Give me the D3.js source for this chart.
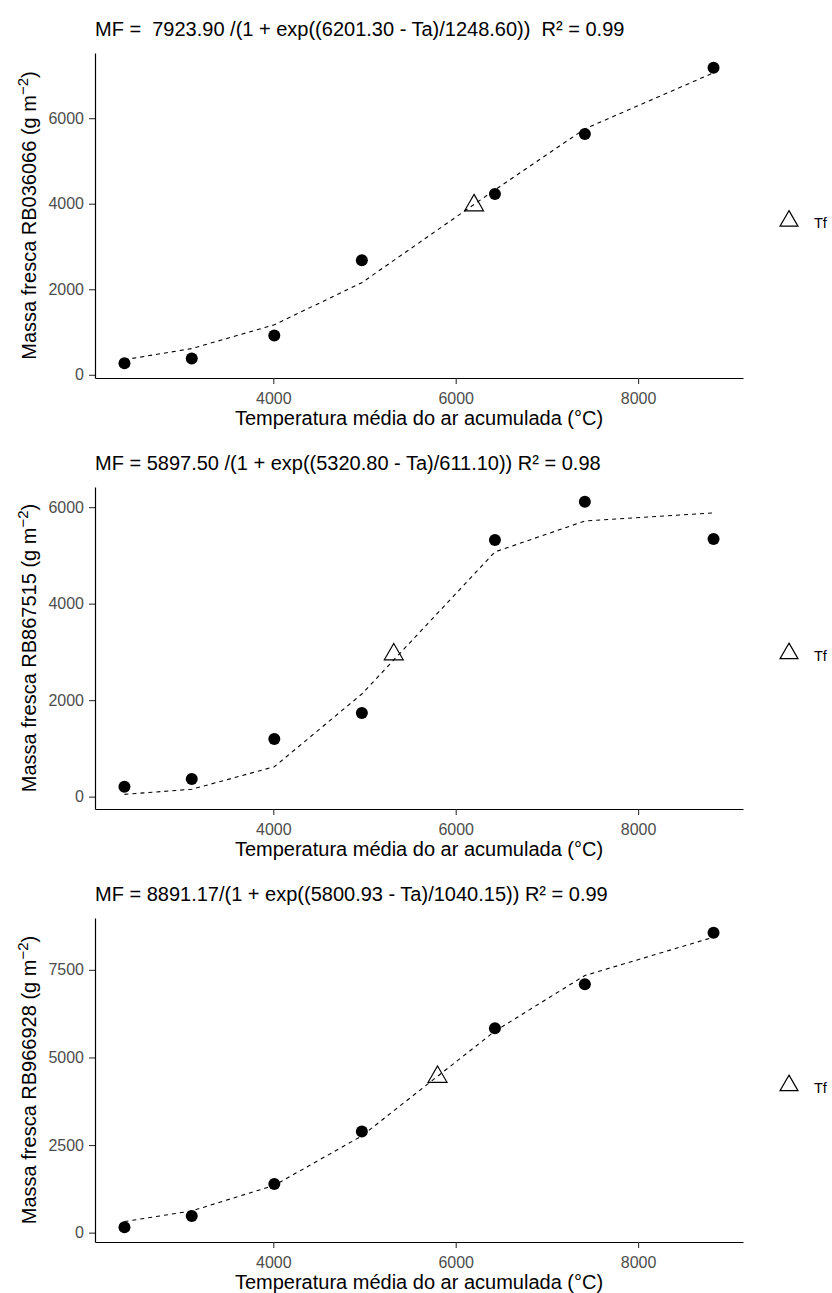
<!DOCTYPE html>
<html>
<head>
<meta charset="utf-8">
<script src="https://cdn.jsdelivr.net/npm/d3@7"></script>
<style>
  body { margin: 0; background: #fff; }
  svg { display: block; font-family: "Liberation Sans", Arial, sans-serif; }
</style>
</head>
<body>
<svg id="chart" width="832" height="1293"></svg>
<script>
// accumulated mean air temperature (°C) at each sampling date
const tempAcum = [2368, 3106, 4011, 4971, 6430, 7416, 8827];

const cultivars = ["RB036066", "RB867515", "RB966928"];

// observed fresh mass (g m-2)
const obsRB036066 = [270, 382, 921, 2679, 4229, 5632, 7179];
const obsRB867515 = [207, 367, 1196, 1735, 5320, 6114, 5341];
const obsRB966928 = [153, 478, 1385, 2883, 5831, 7091, 8559];

// fitted logistic values at the same temperatures
const fitRB036066 = [352, 613, 1169, 2154, 4324, 5750, 7062];
const fitRB867515 = [47, 153, 619, 2127, 5072, 5712, 5879];
const fitRB966928 = [316, 620, 1349, 2761, 5750, 7338, 8432];

// Tf point (inflection): [Ta, MF]
const tfRB036066 = [6201.30, 3961.95];
const tfRB867515 = [5320.80, 2948.75];
const tfRB966928 = [5800.93, 4445.59];

const titles = [
  "MF =  7923.90 /(1 + exp((6201.30 - Ta)/1248.60))  R\u00b2 = 0.99",
  "MF = 5897.50 /(1 + exp((5320.80 - Ta)/611.10)) R\u00b2 = 0.98",
  "MF = 8891.17/(1 + exp((5800.93 - Ta)/1040.15)) R\u00b2 = 0.99"
];

const xTicks = [4000, 6000, 8000];
const yTicks1 = [0, 2000, 4000, 6000];
const yTicks2 = [0, 2000, 4000, 6000];
const yTicks3 = [0, 2500, 5000, 7500];

const panels = [
  { cultivar: cultivars[0], obs: obsRB036066, fit: fitRB036066, tf: tfRB036066, title: titles[0], yTicks: yTicks1, top: 53, bottom: 378 },
  { cultivar: cultivars[1], obs: obsRB867515, fit: fitRB867515, tf: tfRB867515, title: titles[1], yTicks: yTicks2, top: 487, bottom: 809 },
  { cultivar: cultivars[2], obs: obsRB966928, fit: fitRB966928, tf: tfRB966928, title: titles[2], yTicks: yTicks3, top: 918, bottom: 1242 }
];

const svg = d3.select("#chart");
const left = 95, right = 743;

// ggplot-like 5% expansion
function expand(ext) {
  const pad = (ext[1] - ext[0]) * 0.05;
  return [ext[0] - pad, ext[1] + pad];
}

const x = d3.scaleLinear()
  .domain(expand(d3.extent(tempAcum)))
  .range([left, right]);

panels.forEach(p => {
  const allY = p.obs.concat(p.fit, [p.tf[1]]);
  const y = d3.scaleLinear()
    .domain(expand(d3.extent(allY)))
    .range([p.bottom, p.top]);

  const g = svg.append("g");

  // title
  g.append("text")
    .attr("x", left)
    .attr("y", p.top - 17)
    .attr("font-size", 20)
    .attr("fill", "#000")
    .style("white-space", "pre")
    .text(p.title);

  // axes
  const xAxis = g.append("g")
    .attr("transform", `translate(0,${p.bottom})`)
    .call(d3.axisBottom(x).tickValues(xTicks).tickSize(6).tickPadding(9).tickSizeOuter(0).tickFormat(d3.format("d")));
  const yAxis = g.append("g")
    .attr("transform", `translate(${left},0)`)
    .call(d3.axisLeft(y).tickValues(p.yTicks).tickSize(6).tickPadding(5).tickSizeOuter(0).tickFormat(d3.format("d")));

  [xAxis, yAxis].forEach(a => {
    a.attr("font-family", null).attr("font-size", null);
    a.select(".domain").attr("stroke", "#000").attr("stroke-width", 1.2);
    a.selectAll(".tick line").attr("stroke", "#333").attr("stroke-width", 1.1);
    a.selectAll(".tick text").attr("fill", "#4d4d4d").attr("font-size", 16);
  });

  // axis titles
  g.append("text")
    .attr("x", (left + right) / 2)
    .attr("y", p.bottom + 47)
    .attr("text-anchor", "middle")
    .attr("font-size", 20)
    .text("Temperatura m\u00e9dia do ar acumulada (\u00b0C)");

  const yl = g.append("text")
    .attr("transform", `translate(36,${(p.top + p.bottom) / 2}) rotate(-90)`)
    .attr("text-anchor", "middle")
    .attr("font-size", 20);
  yl.append("tspan").text("Massa fresca " + p.cultivar + " (g m");
  yl.append("tspan").attr("dy", -8).attr("font-size", 15).text("\u22122");
  yl.append("tspan").attr("dy", 8).text(")");

  // fitted dashed line
  const line = d3.line()
    .x((d, i) => x(tempAcum[i]))
    .y(d => y(d));
  g.append("path")
    .datum(p.fit)
    .attr("d", line)
    .attr("fill", "none")
    .attr("stroke", "#000")
    .attr("stroke-width", 1.1)
    .attr("stroke-dasharray", "4,4");

  // observed points
  g.selectAll("circle.obs")
    .data(p.obs)
    .join("circle")
    .attr("class", "obs")
    .attr("cx", (d, i) => x(tempAcum[i]))
    .attr("cy", d => y(d))
    .attr("r", 6)
    .attr("fill", "#000");

  // Tf triangle
  g.append("path")
    .attr("d", d3.symbol(d3.symbolTriangle, 155)())
    .attr("transform", `translate(${x(p.tf[0])},${y(p.tf[1])})`)
    .attr("fill", "none")
    .attr("stroke", "#000")
    .attr("stroke-width", 1.2);

  // legend
  const ly = (p.top + p.bottom) / 2 + 5.5;
  g.append("path")
    .attr("d", d3.symbol(d3.symbolTriangle, 140)())
    .attr("transform", `translate(789,${ly})`)
    .attr("fill", "none")
    .attr("stroke", "#000")
    .attr("stroke-width", 1.2);
  g.append("text")
    .attr("x", 814)
    .attr("y", ly + 7)
    .attr("font-size", 14.5)
    .attr("fill", "#000")
    .text("Tf");
});
</script>
</body>
</html>
